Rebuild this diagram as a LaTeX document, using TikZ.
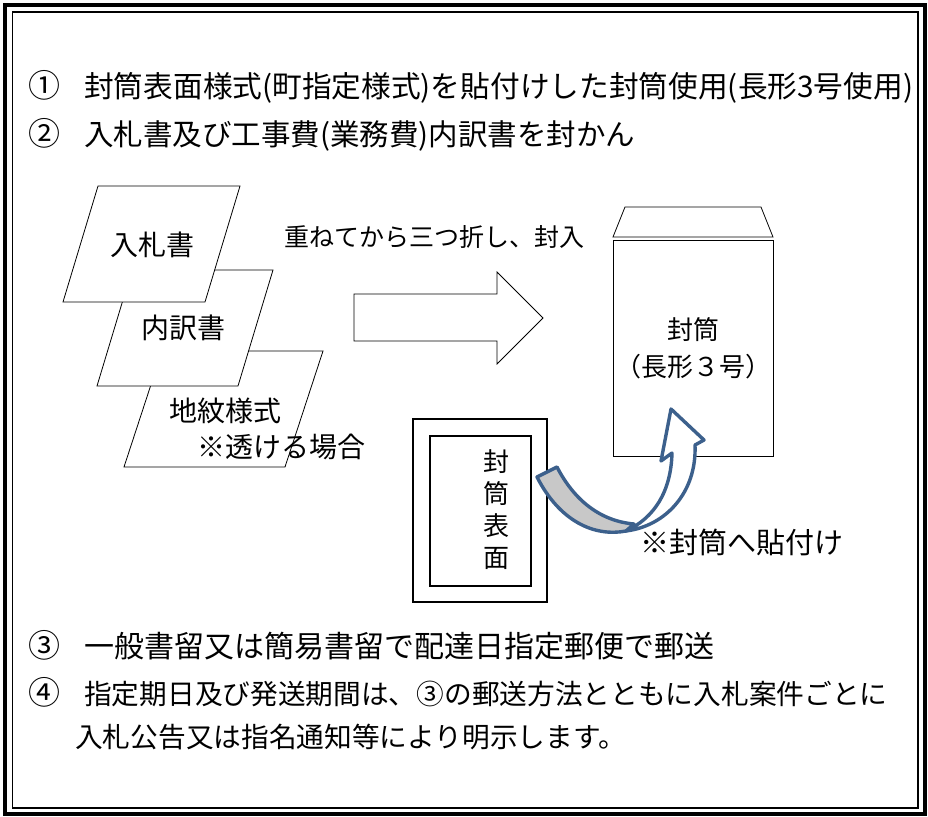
\documentclass[tikz,border=0pt]{standalone}
\usepackage{fontspec}
\newfontfamily\jpfont{Noto Sans CJK JP}
\definecolor{arrowblue}{RGB}{60,96,140}
\definecolor{bandgray}{RGB}{200,200,200}
\newcommand{\circnum}[1]{{\fontsize{32}{32}\selectfont #1}\hspace{24pt}}
\newcommand{\jpsize}[1]{\jpfont\fontsize{#1}{#1}\selectfont}

\begin{document}
\begin{tikzpicture}[x=1pt,y=-1pt,
                line text/.style={inner sep=0pt,anchor=west},
                paper text/.style={font=\jpsize{28},inner sep=0pt},
                small text/.style={font=\jpsize{26},inner sep=0pt},
                sheet/.style={draw,fill=white,line width=0.8pt},
                curl/.style={draw=arrowblue,line width=3.4pt,line join=round}
                ]
            \useasboundingbox (0,0) rectangle (928,816);

            % double frame
            \draw[line width=4pt] (5,5) rectangle (925,814);
            \draw[line width=1.5pt] (12.5,12) rectangle (918,808);

            \node[line text,font=\jpsize{29.7}] (item1) at (28,87) {\circnum{①}封筒表面様式(町指定様式)を貼付けした封筒使用(長形3号使用)};
            \node[line text,font=\jpsize{29.5}] (item2) at (28,135) {\circnum{②}入札書及び工事費(業務費)内訳書を封かん};

            % sheets, from bottom to top
            \draw[sheet] (124,467) -- (162,351) -- (323,351) -- (285,467) -- cycle;
            \draw[sheet] (97,386) -- (132,270) -- (273,270) -- (238,386) -- cycle;
            \draw[sheet] (63,302) -- (98,186) -- (240,186) -- (205,302) -- cycle;

            \node[paper text] (bid) at (152,245) {入札書};
            \node[paper text] (detail) at (183,328) {内訳書};
            \node[paper text] (pattern) at (225,411) {地紋様式};
            \node[paper text] (seethru) at (281,447) {※透ける場合};

            % folding arrow
            \node[line text,font=\jpsize{25}] (fold) at (284,237) {重ねてから三つ折し、封入};
            \draw[sheet] (354,294) -- (497,294) -- (497,272) -- (543,318) -- (497,364) -- (497,341) -- (354,341) -- cycle;

            % envelope
            \draw[sheet] (613,237) -- (625,207) -- (761,207) -- (773,237) -- cycle;
            \draw[sheet] (613,240) rectangle (773,456);
            \node[small text] (env1) at (693,330) {封筒};
            \node[small text] (env2) at (693,367) {（長形３号）};

            % envelope face sheet
            \draw[line width=1.6pt,fill=white] (413,419) rectangle (547,602);
            \draw[line width=1.6pt] (430,436) rectangle (531,586);
            \node[small text,align=center] (face) at (496,510) {封\\[6pt]筒\\[6pt]表\\[6pt]面};

            % curled arrow
            \filldraw[curl,fill=bandgray] (537,477) .. controls (560,522) and (595,537) .. (626,531) -- (634,524) .. controls (600,521) and (574,500) .. (557,467) -- cycle;
            \filldraw[curl,fill=white] (626,531) .. controls (666,526) and (697,492) .. (695,445) -- (704,440) -- (671,409) -- (661,461) -- (672,453) .. controls (671,492) and (654,518) .. (626,531) -- cycle;
            \node[line text,font=\jpsize{29}] (stick) at (640,542) {※封筒へ貼付け};

            \node[line text,font=\jpsize{30}] (item3) at (28,645) {\circnum{③}一般書留又は簡易書留で配達日指定郵便で郵送};
            \node[line text,font=\jpsize{27.7}] (item4) at (28,692) {\circnum{④}指定期日及び発送期間は、③の郵送方法とともに入札案件ごとに};
            \node[line text,font=\jpsize{27.7}] (item5) at (75,737) {入札公告又は指名通知等により明示します。};

            \end{tikzpicture}
\end{document}
